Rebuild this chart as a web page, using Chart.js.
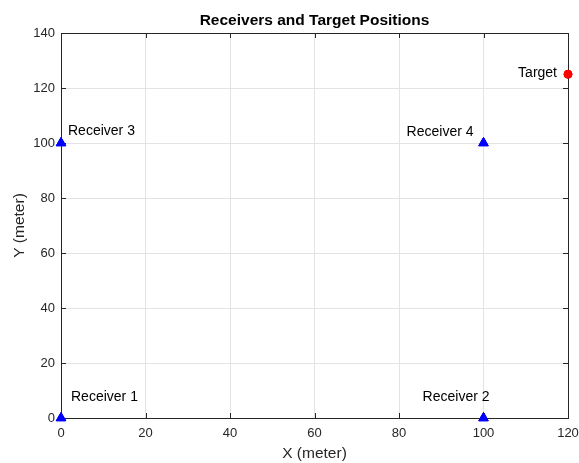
<!DOCTYPE html>
<html>
<head>
<meta charset="utf-8">
<script src="https://cdn.jsdelivr.net/npm/chart.js@4"></script>
<style>
  html, body { margin: 0; padding: 0; background: #fff; }
  #wrap { width: 579px; height: 463px; }
</style>
</head>
<body>
<div id="wrap"><canvas id="c" width="579" height="463"></canvas></div>
<script>
// --- data ---
const receiverNames = ['Receiver 1', 'Receiver 2', 'Receiver 3', 'Receiver 4'];
const receiverX = [0, 100, 0, 100];
const receiverY = [0, 0, 100, 100];
const targetName = 'Target';
const targetX = [120];
const targetY = [125];
const xTicks = [0, 20, 40, 60, 80, 100, 120];
const yTicks = [0, 20, 40, 60, 80, 100, 120, 140];

const FONT = '"Liberation Sans", Arial, Helvetica, sans-serif';
const AXIS = '#262626';

// label offsets in pixels relative to their point (dx, dy, align)
const labelOffsets = [
    [10, -21, 'left'],
    [6, -21, 'right'],
    [7, -12, 'left'],
    [-10, -11, 'right'],
    [-11, -1, 'right']
];

// Draws title, box, inward ticks and point labels (MATLAB look)
const matlabPlugin = {
    id: 'matlabLook',
    afterDatasetsDraw(chart) {
        const ctx = chart.ctx;
        const a = chart.chartArea;
        const xs = chart.scales.x, ys = chart.scales.y;
        ctx.save();
        // box
        ctx.strokeStyle = AXIS;
        ctx.lineWidth = 1;
        ctx.strokeRect(Math.round(a.left) + 0.5, Math.round(a.top) + 0.5,
            Math.round(a.right - a.left), Math.round(a.bottom - a.top));
        // inward ticks
        ctx.beginPath();
        xTicks.forEach(v => {
            const px = Math.round(xs.getPixelForValue(v)) + 0.5;
            ctx.moveTo(px, a.bottom); ctx.lineTo(px, a.bottom - 5);
            ctx.moveTo(px, a.top); ctx.lineTo(px, a.top + 5);
        });
        yTicks.forEach(v => {
            const py = Math.round(ys.getPixelForValue(v)) + 0.5;
            ctx.moveTo(a.left, py); ctx.lineTo(a.left + 5, py);
            ctx.moveTo(a.right, py); ctx.lineTo(a.right - 5, py);
        });
        ctx.stroke();
        ctx.restore();

        // redraw markers on top of box
        chart.data.datasets.forEach((ds, i) => {
            chart.getDatasetMeta(i).data.forEach(el => el.draw(ctx));
        });

        // text labels
        ctx.save();
        ctx.fillStyle = '#000';
        ctx.font = '14px ' + FONT;
        ctx.textBaseline = 'middle';
        const names = receiverNames.concat([targetName]);
        const px = receiverX.concat(targetX);
        const py = receiverY.concat(targetY);
        names.forEach((n, i) => {
            const [dx, dy, al] = labelOffsets[i];
            ctx.textAlign = al;
            ctx.fillText(n, xs.getPixelForValue(px[i]) + dx, ys.getPixelForValue(py[i]) + dy);
        });
        // title
        ctx.font = 'bold 15.5px ' + FONT;
        ctx.textAlign = 'center';
        ctx.fillStyle = '#000';
        ctx.fillText('Receivers and Target Positions', (a.left + a.right) / 2, 21);
        ctx.restore();
    }
};

new Chart(document.getElementById('c'), {
    type: 'scatter',
    data: {
        datasets: [{
            label: 'Receivers',
            data: receiverX.map((x, i) => ({ x: x, y: receiverY[i] })),
            pointStyle: 'triangle',
            pointRadius: 5.5,
            backgroundColor: '#0000ff',
            borderColor: '#0000ff',
            borderWidth: 1,
            clip: false
        }, {
            label: 'Target',
            data: targetX.map((x, i) => ({ x: x, y: targetY[i] })),
            pointStyle: 'circle',
            pointRadius: 4,
            backgroundColor: '#ff0000',
            borderColor: '#ff0000',
            borderWidth: 1,
            clip: false
        }]
    },
    options: {
        responsive: false,
        animation: false,
        devicePixelRatio: 1,
        layout: { padding: { top: 33, right: 11, left: 10, bottom: 0 } },
        plugins: {
            legend: { display: false },
            tooltip: { enabled: false }
        },
        scales: {
            x: {
                type: 'linear',
                min: 0, max: 120,
                afterBuildTicks: s => { s.ticks = xTicks.map(v => ({ value: v })); },
                afterFit: s => { s.height = 45; s.paddingLeft = 0; s.paddingRight = 0; },
                border: { display: false },
                grid: { color: '#e3e3e3', drawTicks: false },
                ticks: { color: AXIS, font: { family: FONT, size: 13 }, padding: 8, maxRotation: 0 },
                title: { display: true, text: 'X (meter)', color: AXIS, font: { family: FONT, size: 15.5 }, padding: { top: 2, bottom: 0 } }
            },
            y: {
                type: 'linear',
                min: 0, max: 140,
                afterBuildTicks: s => { s.ticks = yTicks.map(v => ({ value: v })); },
                afterFit: s => { s.width = 51; s.paddingTop = 0; s.paddingBottom = 0; },
                border: { display: false },
                grid: { color: '#e3e3e3', drawTicks: false },
                ticks: { color: AXIS, font: { family: FONT, size: 13 }, padding: 6 },
                title: { display: true, text: 'Y (meter)', color: AXIS, font: { family: FONT, size: 15.5 }, padding: { top: 0, bottom: 4 } }
            }
        }
    },
    plugins: [matlabPlugin]
});
</script>
</body>
</html>
